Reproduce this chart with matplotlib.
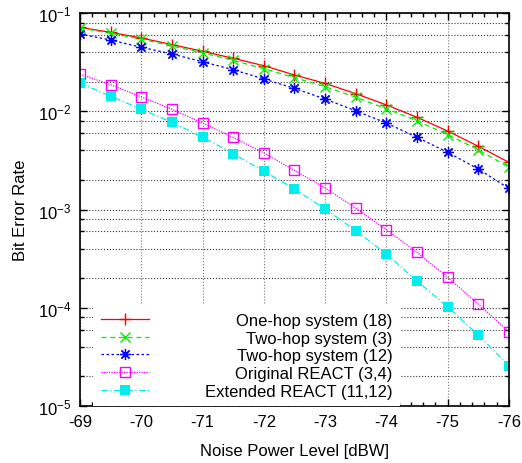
import matplotlib
matplotlib.use("Agg")

import matplotlib.pyplot as plt
from matplotlib.ticker import LogLocator, MultipleLocator

# ── data ─────────────────────────────────────────────────────────────────────
noise_dbw = [-69, -69.5, -70, -70.5, -71, -71.5, -72, -72.5,
             -73, -73.5, -74, -74.5, -75, -75.5, -76]

one_hop_18 = [0.0714, 0.0636, 0.0557, 0.0477, 0.0408, 0.0346, 0.0291, 0.0234,
              0.0192, 0.0151, 0.0116, 0.00868, 0.00629, 0.00440, 0.00302]
two_hop_3 = [0.0705, 0.0621, 0.0543, 0.0461, 0.0394, 0.0330, 0.0271, 0.0220,
             0.0178, 0.0139, 0.0106, 0.00801, 0.00578, 0.00406, 0.00269]
two_hop_12 = [0.0611, 0.0531, 0.0448, 0.0383, 0.0319, 0.0265, 0.0213, 0.0171,
              0.0133, 0.0101, 0.00759, 0.00543, 0.00382, 0.00258, 0.00164]
orig_react = [0.0239, 0.0186, 0.0140, 0.0105, 0.00759, 0.00543, 0.00376, 0.00250,
              0.00166, 0.00103, 0.000624, 0.000366, 0.000204, 0.000109, 5.70e-5]
ext_react = [0.0194, 0.0142, 0.0105, 0.00771, 0.00547, 0.00370, 0.00245, 0.00162,
             0.00101, 0.000610, 0.000352, 0.000187, 0.000102, 5.28e-5, 2.55e-5]

labels = ["One-hop system (18)", "Two-hop system (3)", "Two-hop system (12)",
          "Original REACT (3,4)", "Extended REACT (11,12)"]
x_ticks = [-69, -70, -71, -72, -73, -74, -75, -76]

# ── style ────────────────────────────────────────────────────────────────────
plt.rcParams.update({
    "font.family": ["Liberation Sans", "DejaVu Sans"],
    "font.size": 12,
    "axes.unicode_minus": False,
    "axes.linewidth": 1.2,
})

fig = plt.figure(figsize=(5.22, 4.64), dpi=100)
ax = fig.add_axes([0.1533, 0.1228, 0.8217, 0.847])

series = [
    (one_hop_18, dict(color="#ff0000", ls="-", marker="+", ms=9, mew=1.0)),
    (two_hop_3, dict(color="#00ee00", ls=(0, (4, 3)), marker="x", ms=7, mew=1.0)),
    (two_hop_12, dict(color="#0000ff", ls=(0, (2, 2)), marker=(8, 2, 0), ms=8, mew=0.9)),
    (orig_react, dict(color="#ff00ff", ls=(0, (1, 1)), marker="s", ms=7, mew=1.0,
                      mfc="none")),
    (ext_react, dict(color="#00eeee", ls=(0, (5, 2, 1, 2)), marker="s", ms=7, mew=0)),
]
handles = []
for vals, kw in series:
    h, = ax.plot(noise_dbw, vals, lw=0.9, **kw)
    handles.append(h)

ax.set_yscale("log")
ax.set_ylim(1e-5, 1e-1)
ax.set_xlim(-69, -76)
ax.set_xticks(x_ticks)
ax.xaxis.set_minor_locator(MultipleLocator(0.2))
ax.yaxis.set_major_locator(LogLocator(base=10, numticks=10))
ax.yaxis.set_minor_locator(LogLocator(base=10, subs=(2, 4, 6, 8), numticks=10))
ax.yaxis.set_minor_formatter(plt.NullFormatter())

ax.tick_params(which="both", direction="in", top=True, right=True, width=1.0)
ax.tick_params(which="major", length=5, pad=6)
ax.tick_params(which="minor", length=3)

ax.grid(axis="x", which="major", ls=":", color="0.45", lw=0.8)
ax.grid(axis="y", which="both", ls=":", color="0.2", lw=0.8)
ax.set_axisbelow(True)

ax.set_xlabel("Noise Power Level [dBW]", labelpad=10)
ax.set_ylabel("Bit Error Rate", labelpad=7)

# gnuplot-like key: sample on the left, text right-aligned
leg = ax.legend(handles, labels, loc="lower left", bbox_to_anchor=(0.031, 0.0),
                borderaxespad=0.0, handlelength=2.9, labelspacing=0.16,
                borderpad=0.45, frameon=True, fancybox=False, framealpha=1.0,
                facecolor="white", edgecolor="none", fontsize=12)
fig.canvas.draw()
rows = [hp for col in leg._legend_handle_box.get_children()
        for hp in col.get_children()]
for hp in rows:
    hp.mode = "expand"
    hp.width = 292

fig.savefig("out.png", dpi=100)
